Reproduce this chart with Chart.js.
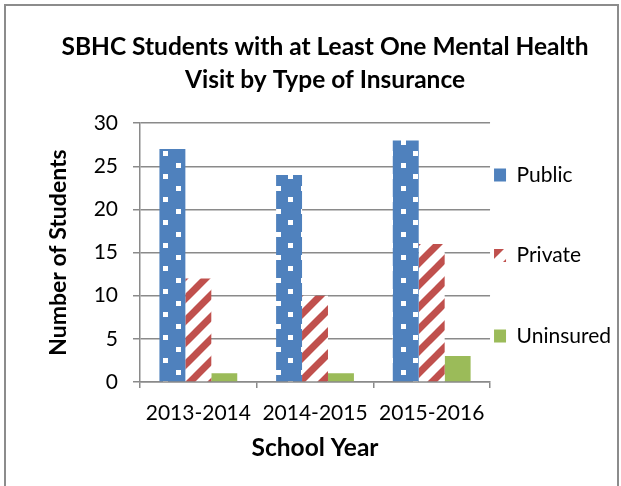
<!DOCTYPE html>
<html>
<head>
<meta charset="utf-8">
<script src="https://cdn.jsdelivr.net/npm/chart.js@4"></script>
<style>
  html, body { margin: 0; padding: 0; background: #fff; }
  #wrap { position: relative; width: 621px; height: 486px; overflow: hidden; }
  #frame { position: absolute; left: 4px; top: 4px; width: 611px; height: 500px; border: 2px solid #8c8c8c; pointer-events: none; }
</style>
</head>
<body>
<div id="wrap">
  <canvas id="c" width="621" height="486"></canvas>
  <div id="frame"></div>
</div>
<script>
// ---- data ----
const titleLines = ['SBHC Students with at Least One Mental Health', 'Visit by Type of Insurance'];
const categories = ['2013-2014', '2014-2015', '2015-2016'];
const seriesNames = ['Public', 'Private', 'Uninsured'];
const publicValues = [27, 24, 28];
const privateValues = [12, 10, 16];
const uninsuredValues = [1, 1, 3];
const yTickMin = 0;
const yTickMax = 30;
const yTickStep = 5;
const xTitle = 'School Year';
const yTitle = 'Number of Students';

// ---- patterns ----
function dotPattern() {
  const c = document.createElement('canvas');
  c.width = 25; c.height = 23;
  const g = c.getContext('2d');
  g.fillStyle = '#4F81BD';
  g.fillRect(0, 0, 25, 23);
  g.fillStyle = '#ffffff';
  g.fillRect(1, 2, 5, 5);
  g.fillRect(13, 13, 5, 5);
  return g.createPattern(c, 'repeat');
}
function stripePattern() {
  const s = 22;
  const c = document.createElement('canvas');
  c.width = s; c.height = s;
  const g = c.getContext('2d');
  g.fillStyle = '#ffffff';
  g.fillRect(0, 0, s, s);
  g.strokeStyle = '#C0504D';
  g.lineWidth = 7;
  g.lineCap = 'square';
  for (let k = -1; k <= 1; k++) {
    g.beginPath();
    g.moveTo(k * s - 2, s + 2);
    g.lineTo(k * s + s + 2, -2);
    g.stroke();
  }
  return g.createPattern(c, 'repeat');
}

function draw() {
  const axisColor = '#8a8a8a';
  const ctx = document.getElementById('c').getContext('2d');
  new Chart(ctx, {
    type: 'bar',
    data: {
      labels: categories,
      datasets: [
        { label: seriesNames[0], data: publicValues, backgroundColor: dotPattern(), borderWidth: 0 },
        { label: seriesNames[1], data: privateValues, backgroundColor: stripePattern(), borderWidth: 0 },
        { label: seriesNames[2], data: uninsuredValues, backgroundColor: '#9BBB59', borderWidth: 0 }
      ]
    },
    options: {
      responsive: false,
      animation: false,
      layout: { padding: { top: 8, left: 29, right: 0, bottom: 0 } },
      datasets: { bar: { categoryPercentage: 0.667, barPercentage: 1.0 } },
      plugins: {
        tooltip: { enabled: false },
        title: {
          display: true,
          text: titleLines,
          color: '#000',
          font: { family: 'Lato', size: 24.5, weight: 'bold', lineHeight: 1.35 },
          padding: { top: 22.5, bottom: 26.5 }
        },
        legend: {
          display: true,
          position: 'right',
          align: 'start',
          maxWidth: 131,
          title: { display: true, text: '', font: { size: 10, lineHeight: 1 }, padding: { top: 142.5, bottom: 0 } },
          labels: {
            color: '#000',
            font: { family: 'Lato', size: 21, lineHeight: 3.643 },
            boxWidth: 12,
            boxHeight: 13,
            padding: 4,
            generateLabels: function (chart) {
              const items = Chart.defaults.plugins.legend.labels.generateLabels(chart);
              items.forEach(function (it) { it.text = [it.text]; it.lineWidth = 0; });
              return items;
            }
          }
        }
      },
      scales: {
        x: {
          afterFit: function (scale) { scale.height = 104; },
          grid: { display: true, drawOnChartArea: false, drawTicks: true, tickLength: 6, color: axisColor, lineWidth: 1.5 },
          border: { display: true, color: axisColor, width: 1.5 },
          ticks: { color: '#000', font: { family: 'Lato', size: 21 }, padding: 13, maxRotation: 0 },
          title: { display: true, text: xTitle, color: '#000', font: { family: 'Lato', size: 24.5, weight: 'bold', lineHeight: 1.2 }, padding: { top: 0, bottom: 23 } }
        },
        y: {
          min: yTickMin,
          max: yTickMax,
          afterFit: function (scale) { scale.width = 111; },
          grid: { display: true, drawTicks: true, tickLength: 7, color: axisColor, lineWidth: 1.5 },
          border: { display: true, color: axisColor, width: 1.5 },
          ticks: { stepSize: yTickStep, color: '#000', font: { family: 'Lato', size: 21 }, padding: 15 },
          title: { display: true, text: yTitle, color: '#000', font: { family: 'Lato', size: 23, weight: 'bold', lineHeight: 1.2 }, padding: { top: 16, bottom: 0 } }
        }
      }
    }
  });
}

Promise.all([
  document.fonts.load('20px Lato'),
  document.fonts.load('bold 20px Lato')
]).then(draw, draw);
</script>
</body>
</html>
